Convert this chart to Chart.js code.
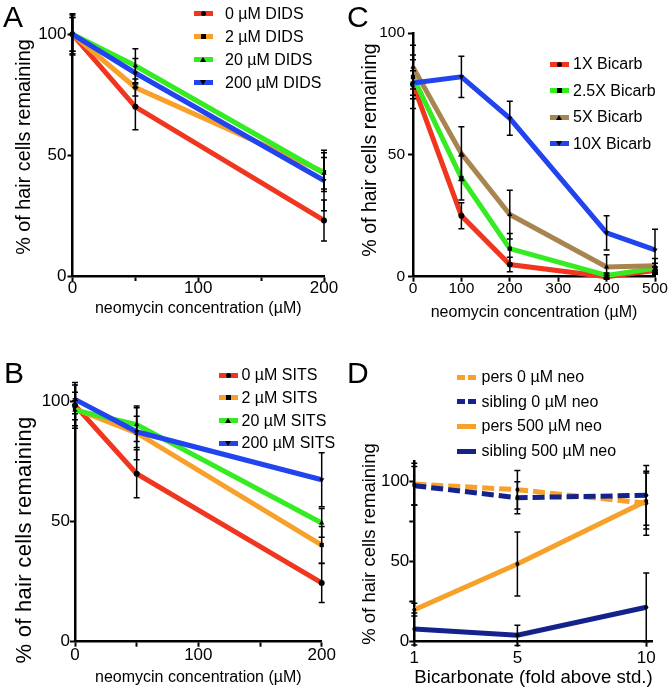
<!DOCTYPE html>
<html>
<head>
<meta charset="utf-8">
<script src="https://cdn.jsdelivr.net/npm/chart.js@4.4.1/dist/chart.umd.min.js"></script>
<style>
  body { margin: 0; background: #fff; }
  #page { position: relative; width: 672px; height: 692px; overflow: hidden;
          font-family: 'Liberation Sans', Arial, sans-serif; color: #000; }
  canvas { position: absolute; left: 0; top: 0; }
  .letter { position: absolute; font-size: 30px; line-height: 30px; }
  .ytitle { position: absolute; white-space: nowrap; line-height: 1;
            transform: translate(-50%, -50%) rotate(-90deg); }
  .legbox { position: absolute; top: 0; width: 336px; height: 692px; overflow: hidden; }
  .leg { position: absolute; font-size: 16px; line-height: 16px; white-space: nowrap; height: 16px; }
  .swatch { position: absolute; top: 5.5px; width: 19px; height: 5px; }
  .mk { position: absolute; left: 7px; top: 0; width: 5px; height: 5px; background: #000; }
</style>
</head>
<body>
<div id="page"></div>
<script>
// ---- panel A : DIDS ----
const didsDose = [0, 50, 200];
const didsLabels = ['0 µM DIDS', '2 µM DIDS', '20 µM DIDS', '200 µM DIDS'];
const dids0 = [100, 70, 23];
const dids2 = [100, 78, 43];
const dids20 = [100, 87, 42.5];
const dids200 = [100, 84, 39.5];
const dids0Err = [7, 9.5, 8.5];
const dids2Err = [8, 3.5, 8];
const dids20Err = [7, 7, 6.5];
const dids200Err = [8.5, 6, 12.5];

// ---- panel B : SITS ----
const sitsDose = [0, 50, 200];
const sitsLabels = ['0 µM SITS', '2 µM SITS', '20 µM SITS', '200 µM SITS'];
const sits0 = [98.5, 70, 24.5];
const sits2 = [97, 87, 40.3];
const sits20 = [96.5, 90.5, 49.5];
const sits200 = [101, 87.5, 67.5];
const sits0Err = [9.5, 10, 8.2];
const sits2Err = [7, 11.2, 7.7];
const sits20Err = [4, 7, 6];
const sits200Err = [6, 6.5, 11.3];

// ---- panel C : bicarbonate x neomycin ----
const bicarbDose = [0, 100, 200, 400, 500];
const bicarbLabels = ['1X Bicarb', '2.5X Bicarb', '5X Bicarb', '10X Bicarb'];
const bicarb1 = [79, 25, 5, 0, 2.5];
const bicarb25 = [82, 40.5, 11.5, 0.5, 3.5];
const bicarb5 = [86, 50.5, 25.5, 4, 4.5];
const bicarb10 = [79.5, 82, 65, 18, 11];
const bicarb1Err = [10, 5.3, 3, 0.5, 1.5];
const bicarb25Err = [9, 9, 6.2, 1, 2];
const bicarb5Err = [9, 11, 10, 5, 3];
const bicarb10Err = [5, 8.5, 7, 7, 8.5];

// ---- panel D : persephone vs sibling ----
const foldAbove = [1, 5, 10];
const fishLabels = ['pers 0 µM neo', 'sibling 0 µM neo', 'pers 500 µM neo', 'sibling 500 µM neo'];
const pers0 = [98.5, 95, 86.5];
const sib0 = [97.5, 90, 91.5];
const pers500 = [20, 48.5, 88];
const sib500 = [8, 4, 21.5];
const pers0Err = [13, 12, 20];
const sib0Err = [12, 10, 18.7];
const pers500Err = [4, 20, 17.5];
const sib500Err = [10, 6.3, 21.5];

const yTitle = '% of hair cells remaining';
const neoTitle = 'neomycin concentration (µM)';
const bicarbTitle = 'Bicarbonate (fold above std.)';

const RED = '#f0361f', ORANGE = '#f7a12a', GREEN = '#35ec22', BLUE = '#2244ee',
      BROWN = '#a8844f', NAVY = '#14228c';

Chart.defaults.font.family = "'Liberation Sans', Arial, sans-serif";
Chart.defaults.color = '#000';

const page = document.getElementById('page');

// black error bars drawn on top of the lines
const errorBars = {
  id: 'errorBars',
  afterDatasetsDraw(chart) {
    const ctx = chart.ctx, xs = chart.scales.x, ys = chart.scales.y;
    ctx.save();
    ctx.strokeStyle = '#000';
    ctx.lineWidth = 1.5;
    chart.data.datasets.forEach(ds => {
      ds.data.forEach((pt, j) => {
        const e = ds.errors[j];
        if (!e) return;
        const x = xs.getPixelForValue(pt.x);
        const y1 = ys.getPixelForValue(pt.y + e);
        const y2 = ys.getPixelForValue(pt.y - e);
        ctx.beginPath();
        ctx.moveTo(x, y1); ctx.lineTo(x, y2);
        ctx.moveTo(x - 3, y1); ctx.lineTo(x + 3, y1);
        ctx.moveTo(x - 3, y2); ctx.lineTo(x + 3, y2);
        ctx.stroke();
      });
    });
    ctx.restore();
  }
};

function makePanel(p) {
  const canvas = document.createElement('canvas');
  canvas.width = 672; canvas.height = 692;
  page.appendChild(canvas);
  const n = p.series.length;
  const axisGrid = { drawOnChartArea: false, drawTicks: true, tickLength: 5, tickWidth: 2, tickColor: '#000' };
  new Chart(canvas, {
    type: 'line',
    data: {
      datasets: p.series.map((s, i) => ({
        label: s.label,
        data: p.x.map((x, j) => ({ x: x, y: s.y[j] })),
        errors: s.err,
        borderColor: s.color,
        borderWidth: 5,
        borderDash: s.dash || [],
        pointStyle: s.point || 'circle',
        pointRotation: s.rot || 0,
        pointRadius: s.point ? 3 : 2,
        pointBackgroundColor: '#000',
        pointBorderWidth: 0,
        tension: 0,
        fill: false,
        clip: false,
        order: n - i
      }))
    },
    options: {
      responsive: false,
      animation: false,
      devicePixelRatio: 1,
      layout: { padding: { left: p.panelLeft, top: p.top, right: 672 - p.right, bottom: 692 - p.bottom - 50 } },
      plugins: { legend: { display: false }, tooltip: { enabled: false } },
      scales: {
        x: {
          type: 'linear', min: p.xMin, max: p.xMax,
          afterBuildTicks: s => { s.ticks = p.xTicks.map(v => ({ value: v })); },
          afterFit: s => { s.height = 50; },
          ticks: { autoSkip: false, maxRotation: 0, padding: p.xTickPad,
                   font: { size: p.tickSize, lineHeight: 1 },
                   callback: v => p.xLabels.includes(v) ? String(v) : '' },
          grid: axisGrid,
          border: { color: '#000', width: 2.5 },
          title: { display: true, text: p.xTitle, font: { size: p.xTitleSize, lineHeight: 1 },
                   padding: { top: 0, bottom: p.bottom + 50 - p.xTitleSize / 2 - p.xTitleY } }
        },
        y: {
          type: 'linear', min: 0, max: p.yMax,
          afterBuildTicks: s => { s.ticks = p.yTicks.map(v => ({ value: v })); },
          afterFit: s => { s.width = p.left - p.panelLeft; },
          ticks: { padding: p.yTickPad, font: { size: p.tickSize, lineHeight: 1 },
                   callback: v => p.yLabels.includes(v) ? String(v) : '' },
          grid: axisGrid,
          border: { color: '#000', width: 2.5 }
        }
      }
    },
    plugins: [errorBars]
  });

  // y-axis title (placed as in the figure, not always centred on the axis)
  const yt = document.createElement('div');
  yt.className = 'ytitle';
  yt.style.left = p.yTitleX + 'px';
  yt.style.top = p.yTitleY + 'px';
  yt.style.fontSize = p.yTitleSize + 'px';
  yt.style.letterSpacing = (p.yTitleSpacing || 0) + 'px';
  yt.textContent = yTitle;
  page.appendChild(yt);

  // legend
  const box = document.createElement('div');
  box.className = 'legbox';
  box.style.left = p.panelLeft + 'px';
  page.appendChild(box);
  p.series.forEach((s, i) => {
    const row = document.createElement('div');
    row.className = 'leg';
    row.style.left = (p.legX - p.panelLeft) + 'px';
    row.style.top = (p.legY + i * p.legGap - 8) + 'px';
    const sw = document.createElement('span');
    sw.className = 'swatch';
    sw.style.background = s.dash
      ? `linear-gradient(to right, ${s.color} 0 8px, transparent 8px 11px, ${s.color} 11px 19px)`
      : s.color;
    if (s.point) {
      const mk = document.createElement('span');
      mk.className = 'mk';
      if (s.point === 'circle') mk.style.borderRadius = '50%';
      if (s.point === 'triangle') {
        mk.style.background = 'none';
        mk.style.width = '0'; mk.style.height = '0'; mk.style.left = '6.5px';
        mk.style.borderLeft = '3px solid transparent';
        mk.style.borderRight = '3px solid transparent';
        if (s.rot) mk.style.borderTop = '5px solid #000';
        else mk.style.borderBottom = '5px solid #000';
      }
      sw.appendChild(mk);
    }
    row.appendChild(sw);
    const tx = document.createElement('span');
    tx.style.position = 'absolute';
    tx.style.left = (p.legText - p.legX) + 'px';
    tx.textContent = s.label;
    row.appendChild(tx);
    box.appendChild(row);
  });

  const letter = document.createElement('div');
  letter.className = 'letter';
  letter.style.left = p.letterX + 'px';
  letter.style.top = p.letterY + 'px';
  letter.textContent = p.letter;
  page.appendChild(letter);
}

makePanel({
  letter: 'A', letterX: 3, letterY: 1.5,
  panelLeft: 0, left: 72.5, right: 324, top: 15, bottom: 276,
  x: didsDose, xMin: 0, xMax: 200, xTicks: [0, 50, 100, 150, 200], xLabels: [0, 100, 200],
  yMax: 108, yTicks: [0, 50, 100], yLabels: [0, 50, 100],
  tickSize: 17, xTickPad: -1, yTickPad: 1,
  xTitle: neoTitle, xTitleSize: 16, xTitleY: 309,
  yTitleSize: 19.8, yTitleX: 24, yTitleY: 147,
  legX: 193.5, legText: 225, legY: 13.5, legGap: 23,
  series: [
    { label: didsLabels[0], y: dids0, err: dids0Err, color: RED, point: 'circle' },
    { label: didsLabels[1], y: dids2, err: dids2Err, color: ORANGE, point: 'rect' },
    { label: didsLabels[2], y: dids20, err: dids20Err, color: GREEN, point: 'triangle' },
    { label: didsLabels[3], y: dids200, err: dids200Err, color: BLUE, point: 'triangle', rot: 180 }
  ]
});

makePanel({
  letter: 'C', letterX: 347, letterY: 1.5,
  panelLeft: 336, left: 413, right: 655, top: 33, bottom: 276.7,
  x: bicarbDose, xMin: 0, xMax: 500, xTicks: [0, 100, 200, 300, 400, 500], xLabels: [0, 100, 200, 300, 400, 500],
  yMax: 100, yTicks: [0, 50, 100], yLabels: [0, 50, 100],
  tickSize: 15.5, xTickPad: -1, yTickPad: 3,
  xTitle: neoTitle, xTitleSize: 16, xTitleY: 313,
  yTitleSize: 19.6, yTitleX: 369.5, yTitleY: 150,
  legX: 549.5, legText: 573, legY: 64, legGap: 26.6,
  series: [
    { label: bicarbLabels[0], y: bicarb1, err: bicarb1Err, color: RED, point: 'circle' },
    { label: bicarbLabels[1], y: bicarb25, err: bicarb25Err, color: GREEN, point: 'rect' },
    { label: bicarbLabels[2], y: bicarb5, err: bicarb5Err, color: BROWN, point: 'triangle' },
    { label: bicarbLabels[3], y: bicarb10, err: bicarb10Err, color: BLUE, point: 'triangle', rot: 180 }
  ]
});

makePanel({
  letter: 'B', letterX: 4, letterY: 357.5,
  panelLeft: 0, left: 75, right: 321.7, top: 385, bottom: 641.7,
  x: sitsDose, xMin: 0, xMax: 200, xTicks: [0, 50, 100, 150, 200], xLabels: [0, 100, 200],
  yMax: 107, yTicks: [0, 50, 100], yLabels: [0, 50, 100],
  tickSize: 17, xTickPad: 0, yTickPad: 0,
  xTitle: neoTitle, xTitleSize: 16, xTitleY: 678,
  yTitleSize: 22, yTitleSpacing: 0.3, yTitleX: 24, yTitleY: 540,
  legX: 218.5, legText: 241.5, legY: 375, legGap: 22.8,
  series: [
    { label: sitsLabels[0], y: sits0, err: sits0Err, color: RED, point: 'circle' },
    { label: sitsLabels[1], y: sits2, err: sits2Err, color: ORANGE, point: 'rect' },
    { label: sitsLabels[2], y: sits20, err: sits20Err, color: GREEN, point: 'triangle' },
    { label: sitsLabels[3], y: sits200, err: sits200Err, color: BLUE, point: 'triangle', rot: 180 }
  ]
});

makePanel({
  letter: 'D', letterX: 347, letterY: 357.5,
  panelLeft: 336, left: 414.3, right: 652.7, top: 461.7, bottom: 641.7,
  x: foldAbove, xMin: 1, xMax: 10.25, xTicks: [1, 5, 10], xLabels: [1, 5, 10],
  yMax: 112.5, yTicks: [0, 25, 50, 75, 100], yLabels: [0, 50, 100],
  tickSize: 17, xTickPad: 3, yTickPad: 0,
  xTitle: bicarbTitle, xTitleSize: 19, xTitleY: 678,
  yTitleSize: 18.5, yTitleX: 369, yTitleY: 544,
  legX: 457, legText: 481.5, legY: 377, legGap: 24.7,
  series: [
    { label: fishLabels[0], y: pers0, err: pers0Err, color: ORANGE, dash: [12, 5] },
    { label: fishLabels[1], y: sib0, err: sib0Err, color: NAVY, dash: [12, 5] },
    { label: fishLabels[2], y: pers500, err: pers500Err, color: ORANGE },
    { label: fishLabels[3], y: sib500, err: sib500Err, color: NAVY }
  ]
});
</script>
</body>
</html>
